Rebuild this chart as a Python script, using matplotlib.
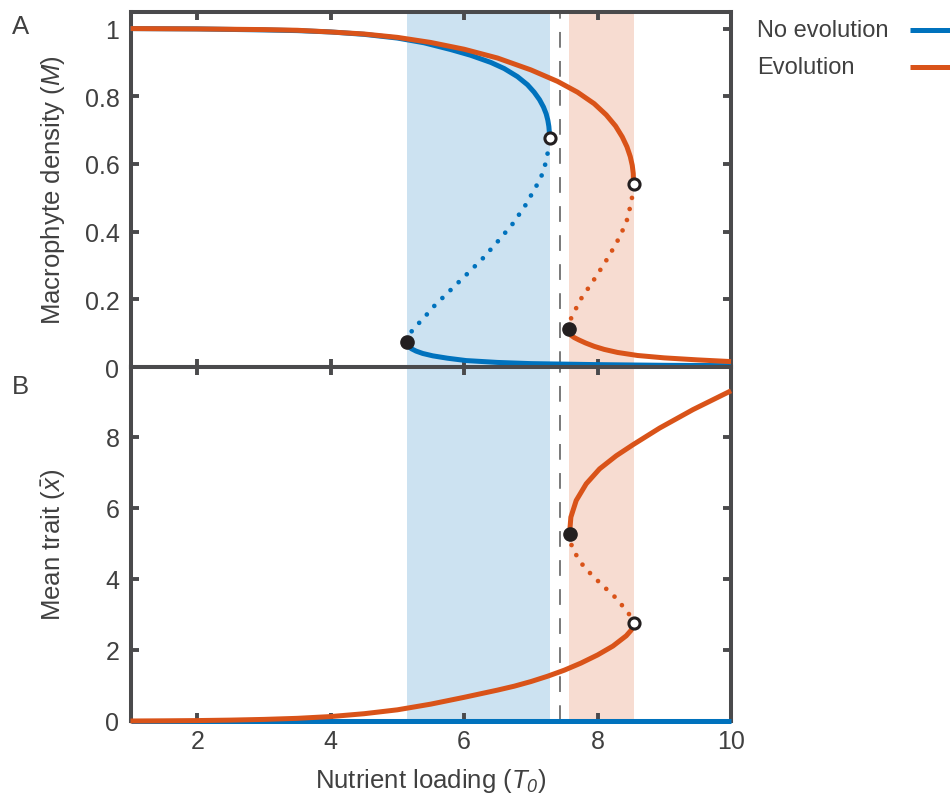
import matplotlib
matplotlib.use('Agg')
import matplotlib.pyplot as plt
from matplotlib.lines import Line2D

plt.rcParams['font.family'] = ['Liberation Sans', 'DejaVu Sans']
plt.rcParams['mathtext.fontset'] = 'custom'
# digits inside math (the subscript 0) are italic in the original too
plt.rcParams['mathtext.rm'] = 'Liberation Sans:italic'
plt.rcParams['mathtext.it'] = 'Liberation Sans:italic'
plt.rcParams['mathtext.bf'] = 'Liberation Sans:bold'

# ---- data ----
# panel A: macrophyte density M vs nutrient loading T0
noevo_up_T = [1.0, 2.0, 3.0, 3.5, 4.0, 4.5, 5.0, 5.4, 5.8, 6.1, 6.4, 6.6, 6.8, 6.95, 7.05, 7.13, 7.19, 7.23, 7.255, 7.27, 7.278, 7.28]
noevo_up_M = [1.000, 0.999, 0.996, 0.994, 0.990, 0.983, 0.972, 0.958, 0.938, 0.921, 0.900, 0.882, 0.858, 0.834, 0.812, 0.790, 0.768, 0.748, 0.729, 0.711, 0.693, 0.677]
noevo_mid_T = [5.144, 5.22, 5.40, 5.56, 5.80, 6.04, 6.28, 6.50, 6.72, 6.91, 7.075, 7.155, 7.21, 7.245, 7.27, 7.28]
noevo_mid_M = [0.075, 0.108, 0.146, 0.182, 0.228, 0.274, 0.321, 0.370, 0.421, 0.475, 0.532, 0.562, 0.594, 0.625, 0.650, 0.677]
noevo_lo_T = [5.144, 5.152, 5.17, 5.21, 5.28, 5.38, 5.53, 5.75, 6.03, 6.5, 7.0, 8.0, 9.0, 10.0]
noevo_lo_M = [0.075, 0.068, 0.061, 0.054, 0.047, 0.040, 0.033, 0.026, 0.019, 0.0135, 0.010, 0.007, 0.005, 0.004]

evo_up_T = [1.0, 2.0, 3.0, 3.5, 4.0, 4.5, 5.0, 5.5, 6.0, 6.5, 7.0, 7.4, 7.7, 7.95, 8.13, 8.27, 8.37, 8.44, 8.49, 8.52, 8.535, 8.54]
evo_up_M = [1.000, 0.999, 0.997, 0.995, 0.990, 0.984, 0.974, 0.959, 0.939, 0.913, 0.878, 0.844, 0.812, 0.778, 0.745, 0.712, 0.680, 0.651, 0.622, 0.596, 0.572, 0.542]
evo_mid_T = [7.575, 7.594, 7.74, 7.93, 8.11, 8.28, 8.43, 8.51, 8.54]
evo_mid_M = [0.111, 0.140, 0.198, 0.253, 0.308, 0.365, 0.426, 0.490, 0.542]
evo_lo_T = [7.575, 7.582, 7.60, 7.65, 7.72, 7.82, 7.95, 8.1, 8.3, 8.6, 9.0, 9.5, 10.0]
evo_lo_M = [0.111, 0.102, 0.094, 0.087, 0.080, 0.071, 0.061, 0.052, 0.043, 0.034, 0.027, 0.021, 0.016]

# panel B: mean trait vs nutrient loading
noevo_trait_T = [1.0, 10.0]
noevo_trait_X = [0.0, 0.0]
evo_tr_lo_T = [1.0, 1.5, 2.0, 2.5, 3.0, 3.5, 4.0, 4.5, 5.0, 5.5, 6.0, 6.5, 6.75, 7.0, 7.25, 7.5, 7.75, 8.0, 8.23, 8.43, 8.5, 8.53, 8.54]
evo_tr_lo_X = [0.0, 0.005, 0.012, 0.025, 0.045, 0.075, 0.125, 0.205, 0.315, 0.475, 0.667, 0.87, 0.98, 1.11, 1.26, 1.43, 1.63, 1.86, 2.11, 2.40, 2.55, 2.65, 2.77]
evo_tr_mid_T = [7.58, 7.62, 7.80, 8.04, 8.29, 8.48, 8.54]
evo_tr_mid_X = [5.27, 4.85, 4.33, 3.88, 3.44, 2.99, 2.77]
evo_tr_up_T = [7.58, 7.60, 7.68, 7.83, 8.03, 8.28, 8.53, 8.93, 9.43, 10.0]
evo_tr_up_X = [5.27, 5.74, 6.21, 6.68, 7.10, 7.47, 7.78, 8.25, 8.77, 9.30]

# bifurcation points (T0, value)
folds_A_filled = [(5.144, 0.075), (7.575, 0.111)]
folds_A_open = [(7.28, 0.677), (8.54, 0.542)]
folds_B_filled = [(7.58, 5.27)]
folds_B_open = [(8.54, 2.77)]

bistable_noevo = (5.144, 7.28)
bistable_evo = (7.575, 8.54)
threshold_T = 7.434

BLUE = '#0072BD'
ORANGE = '#D95319'
GREY = '#4a4a4c'
TXT = '#404040'
DOT = (0, (0.001, 2.4))

fig = plt.figure(figsize=(9.5, 8.03), dpi=100)
W, H = 950.0, 803.0
ax_a = fig.add_axes([130.5 / W, (H - 368) / H, 600.5 / W, 355 / H])
ax_b = fig.add_axes([130.5 / W, (H - 722) / H, 600.5 / W, 354 / H])


def style(ax):
    for sp in ax.spines.values():
        sp.set_color(GREY)
        sp.set_linewidth(2.9)
    ax.tick_params(direction='in', length=6, width=2.8, color=GREY,
                   top=True, right=True, labelsize=18, labelcolor=TXT)
    ax.tick_params(axis='y', pad=8)
    ax.tick_params(axis='x', pad=6)
    ax.set_xlim(1, 10)
    ax.set_xticks([2, 4, 6, 8, 10])


for ax in (ax_a, ax_b):
    style(ax)
    ax.axvspan(*bistable_noevo, color=BLUE, alpha=0.2, lw=0, zorder=0)
    ax.axvspan(*bistable_evo, color=ORANGE, alpha=0.2, lw=0, zorder=0)
    ax.axvline(threshold_T, color='#555555', lw=1.1, linestyle=(0, (10.3, 8.7)), zorder=1)

lw = 3.6
ln = dict(lw=lw, solid_capstyle='butt', solid_joinstyle='round', clip_on=False, zorder=3)
dt = dict(lw=3.4, linestyle=DOT, dash_capstyle='round', zorder=3)

# panel A
ax_a.plot(noevo_up_T, noevo_up_M, color=BLUE, **ln)
ax_a.plot(noevo_lo_T, noevo_lo_M, color=BLUE, **ln)
ax_a.plot(noevo_mid_T, noevo_mid_M, color=BLUE, **dt)
ax_a.plot(evo_up_T, evo_up_M, color=ORANGE, **ln)
ax_a.plot(evo_lo_T, evo_lo_M, color=ORANGE, **ln)
ax_a.plot(evo_mid_T, evo_mid_M, color=ORANGE, **dt)

# panel B
ax_b.plot(noevo_trait_T, noevo_trait_X, color=BLUE, **ln)
ax_b.plot(evo_tr_lo_T, evo_tr_lo_X, color=ORANGE, **ln)
ax_b.plot(evo_tr_up_T, evo_tr_up_X, color=ORANGE, **ln)
ax_b.plot(evo_tr_mid_T, evo_tr_mid_X, color=ORANGE, **dt)

for ax, filled, opened in ((ax_a, folds_A_filled, folds_A_open), (ax_b, folds_B_filled, folds_B_open)):
    for (t, v) in filled:
        ax.plot(t, v, 'o', ms=9.5, color='#231f20', zorder=5, clip_on=False)
    for (t, v) in opened:
        ax.plot(t, v, 'o', ms=8, mfc='white', mec='#231f20', mew=2.2, zorder=5, clip_on=False)

ax_a.set_ylim(0, 1.049)
ax_a.set_yticks([0, 0.2, 0.4, 0.6, 0.8, 1.0])
ax_a.set_yticklabels(['0', '0.2', '0.4', '0.6', '0.8', '1'])
ax_a.tick_params(labelbottom=False)
ax_a.set_ylabel('Macrophyte density ($M$)', fontsize=18.5, color=TXT)
ax_a.yaxis.set_label_coords(-0.106, 0.5)

ax_b.set_ylim(0, 9.97)
ax_b.set_yticks([0, 2, 4, 6, 8])
ax_b.set_ylabel('Mean trait ($\\bar{x}$)', fontsize=18.5, color=TXT)
ax_b.yaxis.set_label_coords(-0.106, 0.5)
ax_b.set_xlabel('Nutrient loading ($T_0$)', fontsize=18.5, color=TXT)
ax_b.xaxis.set_label_coords(0.5, -0.128)

# panel letters
fig.text(12 / W, 1 - 27 / H, 'A', fontsize=18.5, color=TXT, va='center', ha='left')
fig.text(12 / W, 1 - 387 / H, 'B', fontsize=18.5, color=TXT, va='center', ha='left')

# legend drawn by hand (labels left aligned, handles on the right)
legend_items = [('No evolution', BLUE, 31), ('Evolution', ORANGE, 68)]
for label, col, ypx in legend_items:
    fig.text(757 / W, 1 - ypx / H, label, fontsize=17, color=TXT, va='center', ha='left')
    fig.add_artist(Line2D([910 / W, 1.0], [1 - ypx / H] * 2, transform=fig.transFigure,
                          color=col, lw=lw, solid_capstyle='butt'))

fig.savefig('out.png', dpi=100)
